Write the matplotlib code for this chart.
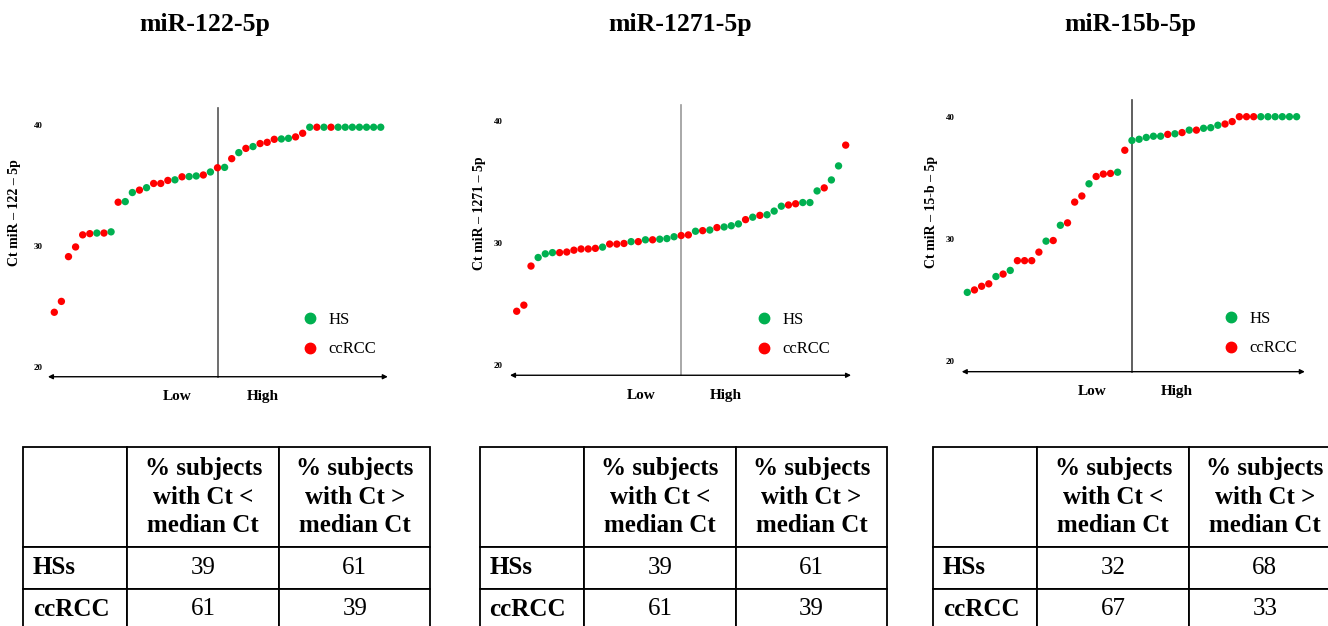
import matplotlib
matplotlib.use("Agg")
import matplotlib.pyplot as plt
from matplotlib.lines import Line2D

plt.rcParams['font.family'] = ['Liberation Serif', 'DejaVu Serif']

# ---------------- data ----------------
titles = ['miR-122-5p', 'miR-1271-5p', 'miR-15b-5p']
ylabels = ['Ct miR – 122 – 5p', 'Ct miR – 1271 – 5p', 'Ct miR – 15-b – 5p']
yticks = [20, 30, 40]
legend_labels = ['HS', 'ccRCC']
axis_words = ['Low', 'High']

# Ct values ordered low -> high ; group: H = HS, C = ccRCC
ct_122 = [24.5, 25.4, 29.1, 29.9, 30.9, 31.0, 31.05, 31.05, 31.15, 33.6, 33.65,
          34.4, 34.6, 34.8, 35.15, 35.15, 35.4, 35.45, 35.7, 35.72, 35.77, 35.85,
          36.1, 36.45, 36.48, 37.2, 37.7, 38.05, 38.2, 38.45, 38.55, 38.8, 38.83,
          38.88, 39.0, 39.3, 39.8, 39.8, 39.8, 39.8, 39.8, 39.8, 39.8, 39.8, 39.8,
          39.8, 39.8]
grp_122 = list("CCCCCC" "HCHCHHCHCCCHCHHCHCHCHCHCCCHHCC" "HCHC" "HHHHHHH")

ct_1271 = [24.4, 24.9, 28.1, 28.8, 29.1, 29.2, 29.2, 29.25, 29.4, 29.5, 29.5,
           29.55, 29.65, 29.9, 29.9, 29.95, 30.1, 30.1, 30.25, 30.25, 30.3, 30.35,
           30.5, 30.6, 30.65, 30.95, 31.0, 31.05, 31.25, 31.3, 31.4, 31.55, 31.9,
           32.1, 32.25, 32.3, 32.6, 33.0, 33.1, 33.2, 33.3, 33.3, 34.25, 34.5,
           35.15, 36.3, 38.0]
grp_1271 = list("CCCHHHCCCCCCHCCCHCHCHHHC" "CHCHCHHHCHCHHHCCHHHCHHC")

ct_15b = [25.6, 25.8, 26.1, 26.3, 26.9, 27.1, 27.4, 28.2, 28.2, 28.2, 28.9, 29.8,
          29.85, 31.1, 31.3, 33.0, 33.5, 34.5, 35.1, 35.3, 35.35, 35.45, 37.25,
          38.05, 38.15, 38.3, 38.4, 38.4, 38.55, 38.6, 38.7, 38.9, 38.9, 39.05,
          39.1, 39.3, 39.4, 39.6, 40.0, 40.0, 40.0, 40.0, 40.0, 40.0, 40.0, 40.0,
          40.0]
grp_15b = list("HCCCHCHCCCCHCHCCCHCCCHCH" "HHHHCHCHCHHHCCCCCHHHHHH")

row_labels = ['HSs', 'ccRCC']
col_labels = ['', '% subjects\nwith Ct <\nmedian Ct', '% subjects\nwith Ct >\nmedian Ct']
pct_122 = [[39, 61], [61, 39]]
pct_1271 = [[39, 61], [61, 39]]
pct_15b = [[32, 68], [67, 33]]

series = [(ct_122, grp_122, pct_122), (ct_1271, grp_1271, pct_1271),
          (ct_15b, grp_15b, pct_15b)]

# ---------------- layout (pixels) ----------------
W, H = 1328, 626
GREEN, RED = '#00B050', '#FF0000'
colmap = {'H': GREEN, 'C': RED}
SERIF = 'Liberation Serif'

panels = [
    dict(x0=54.3, dx=7.096, y20=366.7, y40=124.8, xl=-1.35, al=-0.9, ar=47.0,
         ay=19.17, vtop=41.35, vcol='#555555', title_x=205, ylab=(15, 213),
         leg=(302, 312), tick_fs=6.5),
    dict(x0=516.7, dx=7.152, y20=365.0, y40=120.7, xl=-1.64, al=-0.94, ar=46.75,
         ay=19.16, vtop=41.3, vcol='#9a9a9a', title_x=680, ylab=(480, 213),
         leg=(756, 312), tick_fs=6.5),
    dict(x0=967.3, dx=7.159, y20=360.7, y40=116.7, xl=-1.44, al=-0.78, ar=47.15,
         ay=19.1, vtop=41.37, vcol='#444444', title_x=1130, ylab=(932, 212),
         leg=(1223, 311), tick_fs=6.5),
]
tables = [dict(left=23.3), dict(left=480.0), dict(left=933.3)]
col_w = [104, 152, 151]
row_h = [100, 41.5, 41.5]
table_top = 447

fig = plt.figure(figsize=(W / 100, H / 100), dpi=100)

XR, Y0, Y1 = 48.0, 17.0, 43.0
for p, (ct, grp, pct), title, ylab, tb in zip(panels, series, titles, ylabels, tables):
    ppu = (p['y20'] - p['y40']) / 20.0
    def py(v):
        return p['y20'] - (v - 20) * ppu
    lpx = p['x0'] + p['xl'] * p['dx']
    rpx = p['x0'] + XR * p['dx']
    tpx, bpx = py(Y1), py(Y0)
    ax = fig.add_axes([lpx / W, 1 - bpx / H, (rpx - lpx) / W, (bpx - tpx) / H])
    ax.set_xlim(p['xl'], XR)
    ax.set_ylim(Y0, Y1)
    for s in ax.spines.values():
        s.set_visible(False)
    ax.set_xticks([])
    ax.set_yticks(yticks)
    ax.set_yticklabels([str(t) for t in yticks], fontsize=p['tick_fs'], fontweight='bold')
    ax.tick_params(axis='y', length=0, pad=1.5)
    ax.patch.set_alpha(0)

    idx = list(range(len(ct)))
    ax.scatter(idx, ct, c=[colmap[g] for g in grp], s=28, edgecolors='none',
               zorder=3, clip_on=False)
    med = len(ct) // 2
    ax.plot([med, med], [p['ay'], p['vtop']], color=p['vcol'], lw=1.2, zorder=1,
            clip_on=False)
    ax.annotate('', xy=(p['ar'], p['ay']), xytext=(p['al'], p['ay']),
                arrowprops=dict(arrowstyle='<|-|>', color='black', lw=1.0,
                                mutation_scale=7, shrinkA=0, shrinkB=0),
                annotation_clip=False)
    ax.annotate(axis_words[0], xy=(med, p['ay']), xytext=(-40, -20),
                textcoords='offset pixels', ha='center', va='center',
                fontsize=11, fontweight='bold')
    ax.annotate(axis_words[1], xy=(med, p['ay']), xytext=(45, -20),
                textcoords='offset pixels', ha='center', va='center',
                fontsize=11, fontweight='bold')

    ax.set_ylabel(ylab, fontsize=10, fontweight='bold', va='center')
    ax.yaxis.set_label_coords(p['ylab'][0] / W, 1 - p['ylab'][1] / H,
                              transform=fig.transFigure)

    handles = [Line2D([], [], marker='o', ls='', color=GREEN, markersize=7.5,
                      label=legend_labels[0]),
               Line2D([], [], marker='o', ls='', color=RED, markersize=7.5,
                      label=legend_labels[1])]
    ax.legend(handles=handles, frameon=False, loc='upper left',
              bbox_to_anchor=(p['leg'][0] / W, 1 - p['leg'][1] / H),
              bbox_transform=fig.transFigure, fontsize=12, handlelength=1.0,
              handletextpad=0.6, labelspacing=0.8, borderpad=0,
              borderaxespad=0)

    fig.text(p['title_x'] / W, 1 - 25 / H, title, ha='center', va='center',
             fontsize=18.5, fontweight='bold')

    # ---- table ----
    tw, th = sum(col_w), sum(row_h)
    tax = fig.add_axes([tb['left'] / W, 1 - (table_top + th) / H, tw / W, th / H])
    tax.axis('off')
    cells = [col_labels] + [[row_labels[i]] + [str(v) for v in pct[i]] for i in range(2)]
    tbl = tax.table(cellText=cells, bbox=[0, 0, 1, 1], cellLoc='center',
                    colWidths=[c / tw for c in col_w])
    tbl.auto_set_font_size(False)
    for (r, c), cell in tbl.get_celld().items():
        cell.set_height(row_h[r] / th)
        cell.set_linewidth(1.3)
        cell.set_edgecolor('black')
        t = cell.get_text()
        t.set_fontfamily(SERIF)
        t.set_fontsize(18)
        t.set_linespacing(1.3)
        if r == 0 or c == 0:
            t.set_fontweight('bold')
        if c == 0 and r > 0:
            t.set_horizontalalignment('left')
            cell.PAD = 0.09

fig.savefig('out.png', dpi=100)
